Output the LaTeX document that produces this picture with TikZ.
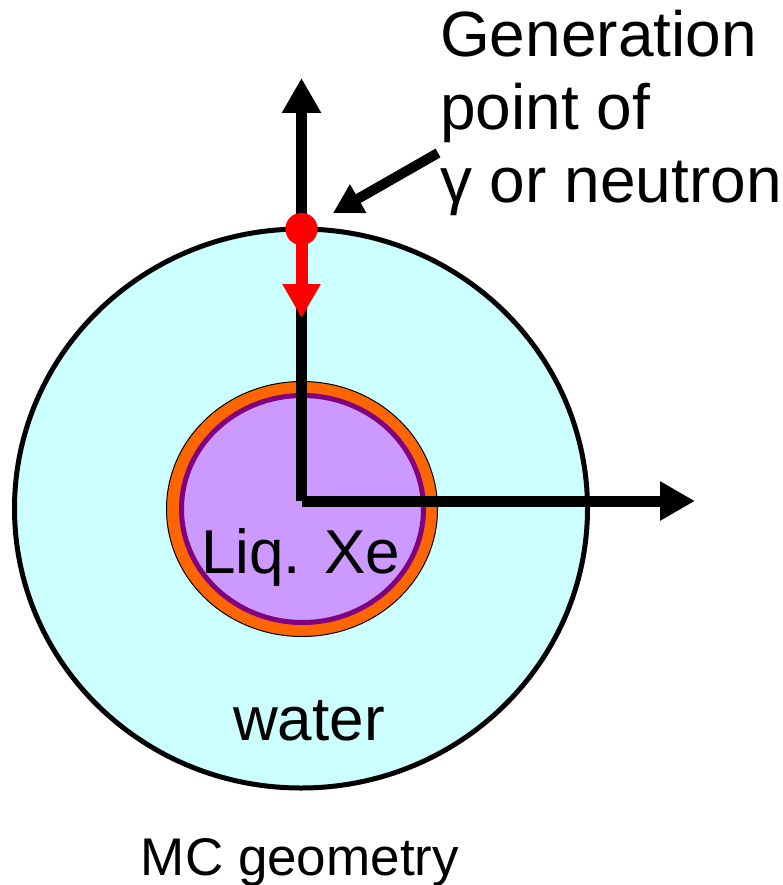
\documentclass[tikz,border=0pt]{standalone}
\usepackage{fontspec}
\setmainfont{Liberation Sans}
\usetikzlibrary{arrows.meta}
\definecolor{watercol}{HTML}{CCFFFF}
\definecolor{shellcol}{HTML}{FF6600}
\definecolor{xecol}{HTML}{CC99FF}
\definecolor{xeedge}{HTML}{800080}
\tikzset{
  axisline/.style={line width=11pt, line cap=butt, -{Triangle[length=35pt,width=37pt]}},
  redline/.style={draw=red, line width=12pt, line cap=butt, -{Triangle[length=34pt,width=36pt]}},
  pointer/.style={line width=10pt, line cap=butt, -{Triangle[length=29pt,width=31pt]}},
  bigtext/.style={inner sep=0pt, font=\fontsize{62}{73}\selectfont},
  labeltext/.style={inner sep=0pt, font=\fontsize{64}{73}\selectfont},
  smalltext/.style={inner sep=0pt, font=\fontsize{53}{63}\selectfont},
}
\begin{document}
\begin{tikzpicture}[x=1pt,y=-1pt]
\useasboundingbox (0,0) rectangle (783,885);
% water
\draw[fill=watercol, line width=5pt] (301,508.5) ellipse [x radius=286.5pt, y radius=279.5pt];
% shell
\draw[fill=shellcol, line width=1pt] (302,509) ellipse [x radius=135.5pt, y radius=127.5pt];
% liquid xenon
\draw[fill=xecol, draw=xeedge, line width=5pt] (302.5,509) ellipse [x radius=121pt, y radius=113.5pt];
\node[bigtext, anchor=base] (xe) at (300.5,573) {Liq. Xe};
\node[bigtext, anchor=base] (water) at (309,740) {water};
% axes
\coordinate (O) at (301.5,501);
\coordinate (ytip) at (301.5,78);
\coordinate (xtip) at (695,501);
\draw[axisline] (O) -- (ytip);
\draw[axisline] (O) -- (xtip);
% generation point
\coordinate (redtip) at (301.5,318);
\node[circle, fill=red, minimum size=32pt, inner sep=0pt] (gen) at (301.5,229) {};
\draw[redline] (gen.center) -- (redtip);
\fill[red] (gen.center) circle (16pt);
% label
\node[labeltext, anchor=base west, align=left] (lbl) at (440,203) {Generation\\point of\\γ or neutron};
\coordinate (pstart) at (438,153);
\coordinate (pend) at (333,213);
\draw[pointer] (pstart) -- (pend);
% caption
\node[smalltext, anchor=base] (cap) at (300,875) {MC geometry};
\end{tikzpicture}
\end{document}
